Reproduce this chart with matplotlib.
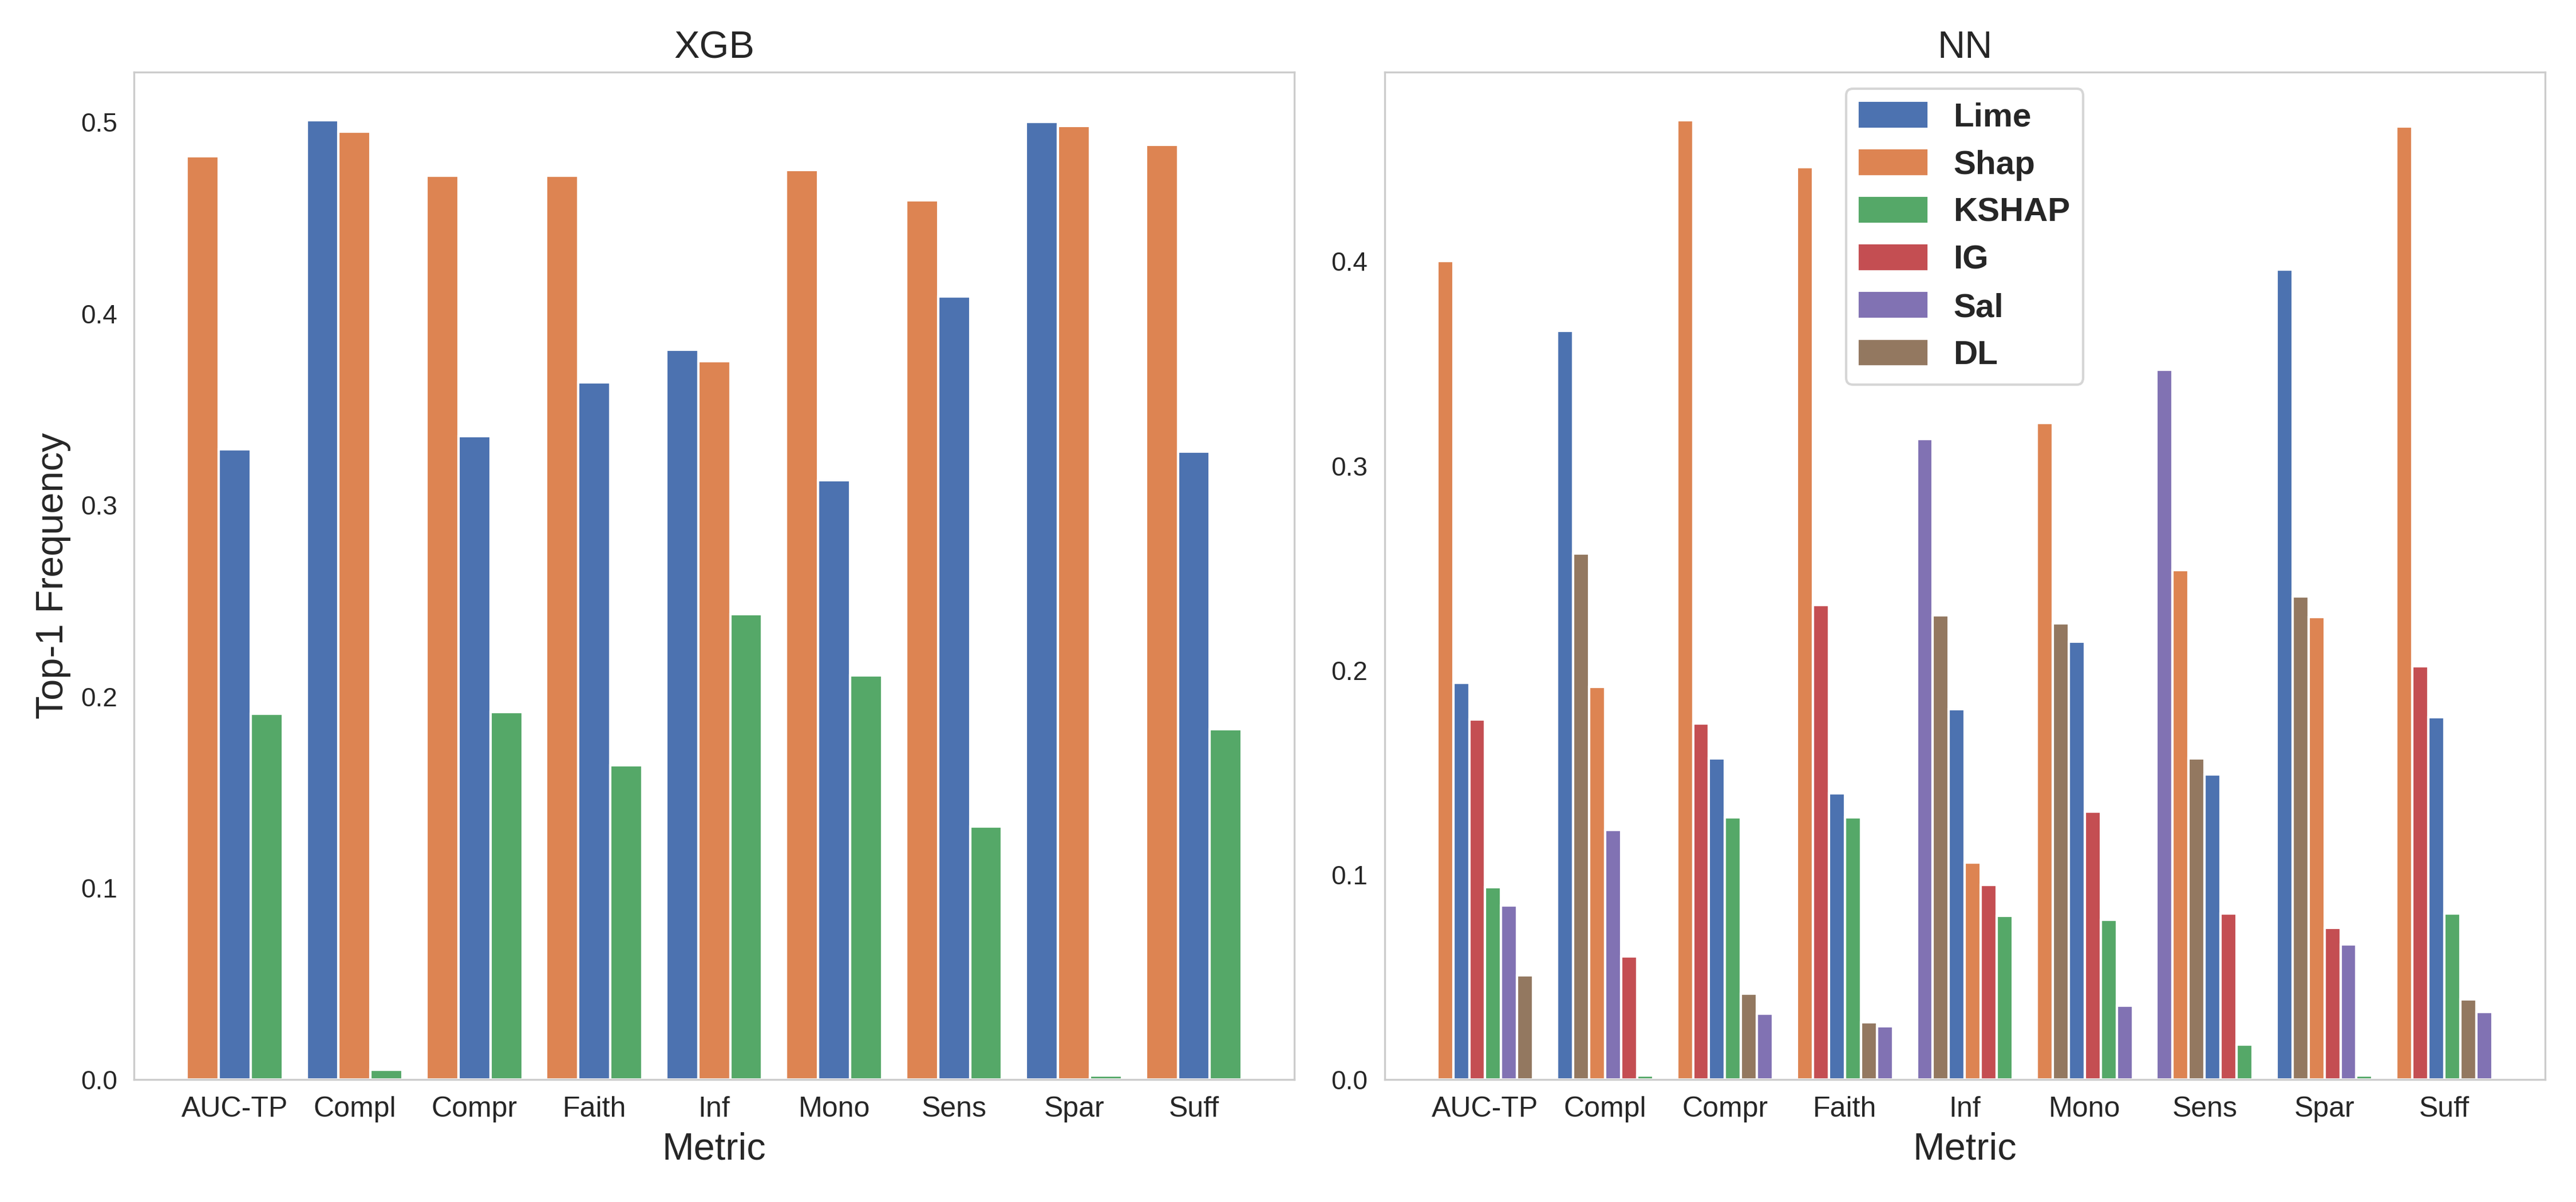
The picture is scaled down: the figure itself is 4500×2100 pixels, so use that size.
import matplotlib
matplotlib.use("Agg")
import matplotlib.pyplot as plt
import numpy as np
import seaborn as sns

metrics = ['AUC-TP', 'Compl', 'Compr', 'Faith', 'Inf', 'Mono', 'Sens', 'Spar', 'Suff']
methods = ['Lime', 'Shap', 'KSHAP', 'IG', 'Sal', 'DL']

# XGB top-1 frequency per method (one value per metric)
xgb_lime = [0.329, 0.501, 0.336, 0.364, 0.381, 0.313, 0.409, 0.500, 0.328]
xgb_shap = [0.482, 0.495, 0.472, 0.472, 0.375, 0.475, 0.459, 0.498, 0.488]
xgb_kshap = [0.191, 0.005, 0.192, 0.164, 0.243, 0.211, 0.132, 0.002, 0.183]

# NN top-1 frequency per method
nn_lime = [0.194, 0.366, 0.157, 0.140, 0.181, 0.214, 0.149, 0.396, 0.177]
nn_shap = [0.400, 0.192, 0.469, 0.446, 0.106, 0.321, 0.249, 0.226, 0.466]
nn_kshap = [0.094, 0.002, 0.128, 0.128, 0.080, 0.078, 0.017, 0.002, 0.081]
nn_ig = [0.176, 0.060, 0.174, 0.232, 0.095, 0.131, 0.081, 0.074, 0.202]
nn_sal = [0.085, 0.122, 0.032, 0.026, 0.313, 0.036, 0.347, 0.066, 0.033]
nn_dl = [0.051, 0.257, 0.042, 0.028, 0.227, 0.223, 0.157, 0.236, 0.039]

xgb_data = {'Lime': xgb_lime, 'Shap': xgb_shap, 'KSHAP': xgb_kshap}
nn_data = {'Lime': nn_lime, 'Shap': nn_shap, 'KSHAP': nn_kshap,
           'IG': nn_ig, 'Sal': nn_sal, 'DL': nn_dl}

sns.set_style('whitegrid')
plt.rcParams['font.family'] = ['Liberation Sans', 'DejaVu Sans']

palette = sns.color_palette('deep')
colors = {m: palette[i] for i, m in enumerate(methods)}


def plot_sorted_groups(ax, data):
    # bars inside each metric group are ordered by value, highest first
    names = list(data.keys())
    n = len(names)
    width = 0.8 / n
    for i, metric in enumerate(metrics):
        vals = [(data[m][i], m) for m in names]
        vals.sort(key=lambda t: -t[0])
        for j, (v, m) in enumerate(vals):
            pos = i + (j - (n - 1) / 2) * width
            ax.bar(pos, v, width, color=colors[m], edgecolor='white', linewidth=1)
    ax.set_xticks(np.arange(len(metrics)))
    ax.set_xticklabels(metrics, fontsize=12)
    ax.tick_params(axis='y', labelsize=11)
    ax.grid(False)
    ax.set_xlabel('Metric', fontsize=16)


fig, (ax1, ax2) = plt.subplots(1, 2, figsize=(15, 7), dpi=300)

plot_sorted_groups(ax1, xgb_data)
ax1.set_title('XGB', fontsize=16)
ax1.set_ylabel('Top-1 Frequency', fontsize=16)

plot_sorted_groups(ax2, nn_data)
ax2.set_title('NN', fontsize=16)

handles = [plt.Rectangle((0, 0), 1, 1, color=colors[m]) for m in methods]
ax2.legend(handles, methods, loc='upper center', prop={'weight': 'bold', 'size': 14})

fig.subplots_adjust(left=0.052, right=0.988, bottom=0.102, top=0.94, wspace=0.0775)
plt.savefig('out.png', dpi=300)
plt.close()
